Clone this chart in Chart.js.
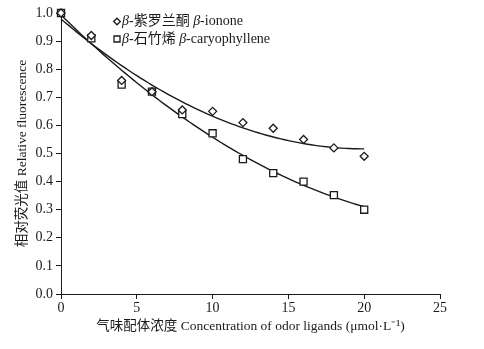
<!DOCTYPE html>
<html>
<head>
<meta charset="utf-8">
<script src="https://cdn.jsdelivr.net/npm/chart.js@4.4.1/dist/chart.umd.min.js"></script>
<style>
    html, body { margin: 0; padding: 0; background: #fff; }
    #wrap { width: 484px; height: 349px; }
</style>
</head>
<body>
<div id="wrap"><canvas id="chart"></canvas></div>
<script>
// Odor ligand concentrations (µmol/L) and relative fluorescence readings
const concentrations = [0, 2, 4, 6, 8, 10, 12, 14, 16, 18, 20]
const ionone = [1.0, 0.92, 0.76, 0.72, 0.655, 0.65, 0.61, 0.59, 0.55, 0.52, 0.49]
const caryophyllene = [1.0, 0.91, 0.745, 0.72, 0.64, 0.572, 0.48, 0.43, 0.40, 0.352, 0.30]
const seriesLabels = ["β-紫罗兰酮 β-ionone", "β-石竹烯 β-caryophyllene"]
const xTicks = [0, 5, 10, 15, 20, 25]
const yTicks = [0, 0.1, 0.2, 0.3, 0.4, 0.5, 0.6, 0.7, 0.8, 0.9, 1.0]

const serif = "'Liberation Serif', 'Times New Roman', 'Noto Sans CJK SC', serif"
const ink = "#1a1a1a"

/**
 * Least-squares polynomial fit, returns coefficients [a0, a1, ..., an].
 */
function polyfit(xs, ys, order) {
    const n = order + 1
    const m = []
    for (let r = 0; r < n; r++) {
        const row = []
        for (let c = 0; c < n; c++) {
            row.push(xs.reduce((s, x) => s + Math.pow(x, r + c), 0))
        }
        row.push(xs.reduce((s, x, i) => s + ys[i] * Math.pow(x, r), 0))
        m.push(row)
    }
    // gauss elimination
    for (let i = 0; i < n; i++) {
        for (let k = i + 1; k < n; k++) {
            const f = m[k][i] / m[i][i]
            for (let j = i; j <= n; j++) m[k][j] -= f * m[i][j]
        }
    }
    const coef = new Array(n).fill(0)
    for (let i = n - 1; i >= 0; i--) {
        let s = m[i][n]
        for (let j = i + 1; j < n; j++) s -= m[i][j] * coef[j]
        coef[i] = s / m[i][i]
    }
    return coef
}

// second order trendline over the measured range
function trendPoints(ys) {
    const coef = polyfit(concentrations, ys, 2)
    const pts = []
    const last = concentrations[concentrations.length - 1]
    for (let x = 0; x <= last + 1e-9; x += 0.25) {
        pts.push({ x: x, y: coef.reduce((s, c, i) => s + c * Math.pow(x, i), 0) })
    }
    return pts
}

const toPoints = (ys) => concentrations.map((x, i) => ({ x: x, y: ys[i] }))

// Legend drawn inside the plot, with β set in italic
const innerLegend = {
    id: "innerLegend",
    afterDatasetsDraw(chart) {
        const ctx = chart.ctx
        const items = chart.data.datasets.filter(d => d.legendRow !== undefined)
        ctx.save()
        items.forEach(ds => {
            const cy = 21.5 + ds.legendRow * 17.5
            const mx = 117
            ctx.strokeStyle = ds.borderColor
            ctx.fillStyle = ds.backgroundColor
            ctx.lineWidth = 1.3
            ctx.beginPath()
            if (ds.pointStyle === "rect") {
                ctx.rect(mx - 3, cy - 3, 6, 6)
            } else {
                ctx.moveTo(mx, cy - 3.3)
                ctx.lineTo(mx + 3.3, cy)
                ctx.lineTo(mx, cy + 3.3)
                ctx.lineTo(mx - 3.3, cy)
                ctx.closePath()
            }
            ctx.fill()
            ctx.stroke()

            let tx = 122
            ctx.fillStyle = ink
            ctx.textBaseline = "middle"
            ds.label.split(/(β)/).filter(p => p.length).forEach(part => {
                ctx.font = (part === "β" ? "italic " : "") + "14px " + serif
                ctx.fillText(part, tx, cy)
                tx += ctx.measureText(part).width
            })
        })
        ctx.restore()
    }
}

const markerStyle = {
    showLine: false,
    borderColor: ink,
    backgroundColor: "#fff",
    borderWidth: 1.3,
    clip: false,
    order: 0
}

const lineStyle = {
    showLine: true,
    pointRadius: 0,
    borderColor: ink,
    borderWidth: 1.4,
    fill: false,
    tension: 0,
    clip: false,
    order: 1
}

const axisFont = { family: serif, size: 14 }

new Chart(document.getElementById("chart"), {
    type: "scatter",
    data: {
        datasets: [
            { ...markerStyle, label: seriesLabels[0], data: toPoints(ionone), pointStyle: "rectRot", pointRadius: 4, legendRow: 0 },
            { ...markerStyle, label: seriesLabels[1], data: toPoints(caryophyllene), pointStyle: "rect", pointRadius: 5, legendRow: 1 },
            { ...lineStyle, label: "ionone fit", data: trendPoints(ionone) },
            { ...lineStyle, label: "caryophyllene fit", data: trendPoints(caryophyllene) }
        ]
    },
    options: {
        responsive: true,
        maintainAspectRatio: false,
        animation: false,
        layout: { padding: { left: 0, right: 44, top: 13, bottom: 0 } },
        plugins: {
            legend: { display: false },
            tooltip: { enabled: false }
        },
        scales: {
            x: {
                type: "linear",
                min: 0,
                max: 25,
                afterBuildTicks(scale) {
                    scale.ticks = xTicks.map(v => ({ value: v }))
                },
                afterFit(scale) {
                    scale.height = 55
                },
                ticks: {
                    color: ink,
                    font: axisFont,
                    padding: 1,
                    maxRotation: 0
                },
                grid: {
                    display: true,
                    drawOnChartArea: false,
                    drawTicks: true,
                    tickLength: 5,
                    color: ink
                },
                border: { display: true, color: ink, width: 1 },
                title: {
                    display: true,
                    text: "气味配体浓度 Concentration of odor ligands (μmol·L⁻¹)",
                    color: ink,
                    font: { family: serif, size: 13.5 },
                    padding: { top: 0, bottom: 14 }
                }
            },
            y: {
                type: "linear",
                min: 0,
                max: 1,
                afterBuildTicks(scale) {
                    scale.ticks = yTicks.map(v => ({ value: v }))
                },
                afterFit(scale) {
                    scale.width = 61
                },
                ticks: {
                    color: ink,
                    font: axisFont,
                    padding: 3,
                    callback: v => Number(v).toFixed(1)
                },
                grid: {
                    display: true,
                    drawOnChartArea: false,
                    drawTicks: true,
                    tickLength: 5,
                    color: ink
                },
                border: { display: true, color: ink, width: 1 },
                title: {
                    display: true,
                    text: "相对荧光值 Relative fluorescence",
                    color: ink,
                    font: { family: serif, size: 13.5 },
                    padding: { top: 14, bottom: 0 }
                }
            }
        }
    },
    plugins: [innerLegend]
})
</script>
</body>
</html>
